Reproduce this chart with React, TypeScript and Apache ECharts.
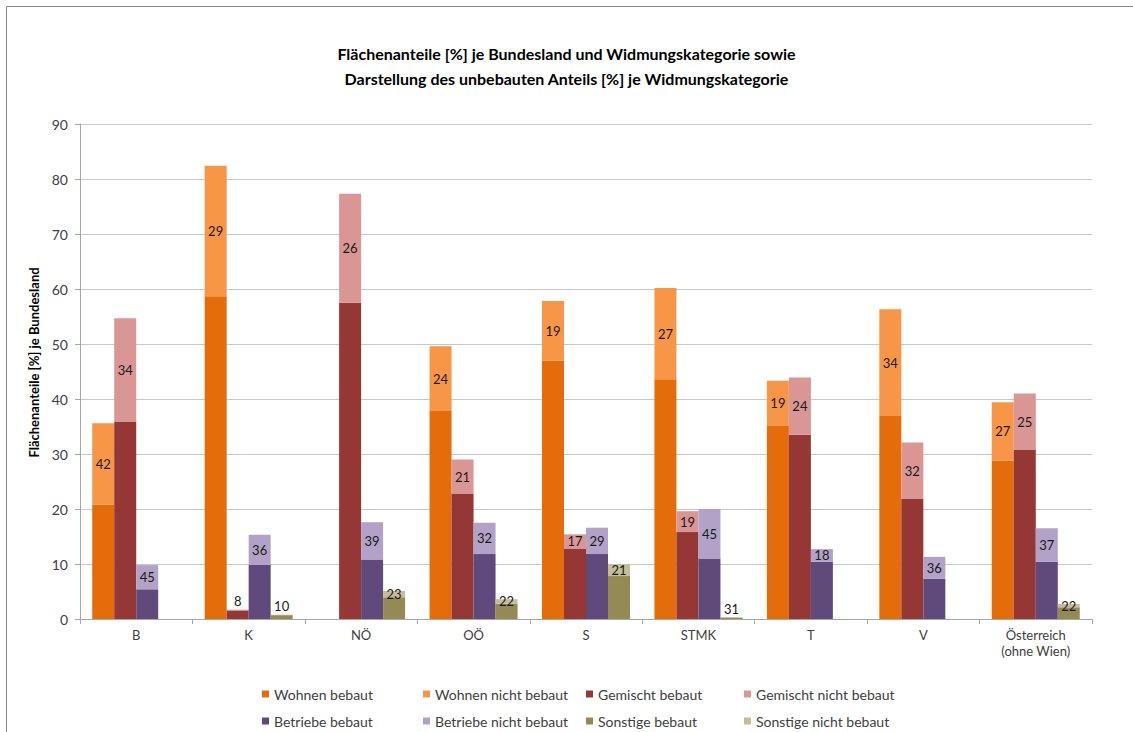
import React, { useEffect, useRef } from "react";
import * as echarts from "echarts";

const categories = ["B", "K", "NÖ", "OÖ", "S", "STMK", "T", "V", "Österreich\n(ohne Wien)"];

const wohnenBebaut = [20.8, 58.7, 0, 37.8, 47.0, 43.6, 35.1, 36.9, 28.8];
const wohnenNicht = [14.8, 23.7, 0, 11.8, 10.8, 16.6, 8.2, 19.4, 10.6];
const wohnenPct = [42, 29, null, 24, 19, 27, 19, 34, 27];

const gemischtBebaut = [35.9, 1.56, 57.5, 22.8, 12.8, 15.8, 33.5, 21.9, 30.8];
const gemischtNicht = [18.8, 0.14, 19.8, 6.2, 2.6, 3.8, 10.4, 10.2, 10.2];
const gemischtPct = [34, 8, 26, 21, 17, 19, 24, 32, 25];

const betriebeBebaut = [5.4, 9.8, 10.8, 11.8, 11.8, 11.0, 10.4, 7.3, 10.4];
const betriebeNicht = [4.4, 5.5, 6.8, 5.7, 4.8, 9.0, 2.3, 4.0, 6.1];
const betriebePct = [45, 36, 39, 32, 29, 45, 18, 36, 37];

const sonstigeBebaut = [0, 0.7, 3.95, 2.8, 7.8, 0.25, 0, 0, 2.13];
const sonstigeNicht = [0, 0.08, 1.15, 0.8, 2.16, 0.11, 0, 0, 0.6];
const sonstigePct = [null, 10, 23, 22, 21, 31, null, null, 22];

const FONT = "Lato";

const groups = [
  { key: "W", name: "Wohnen", bebaut: wohnenBebaut, nicht: wohnenNicht, pct: wohnenPct, c1: "#e46c0a", c2: "#f79646" },
  { key: "G", name: "Gemischt", bebaut: gemischtBebaut, nicht: gemischtNicht, pct: gemischtPct, c1: "#953735", c2: "#d99694" },
  { key: "B", name: "Betriebe", bebaut: betriebeBebaut, nicht: betriebeNicht, pct: betriebePct, c1: "#604a7b", c2: "#b3a2c7" },
  { key: "S", name: "Sonstige", bebaut: sonstigeBebaut, nicht: sonstigeNicht, pct: sonstigePct, c1: "#948a54", c2: "#c4bd97" },
];

export default function App() {
  const ref = useRef<HTMLDivElement>(null);
  useEffect(() => {
    if (!ref.current) return;
    const chart = echarts.init(ref.current, null, { renderer: "svg" });
    const series: any[] = [];
    groups.forEach((g) => {
      series.push({
        name: g.name + " bebaut",
        type: "bar",
        stack: g.key,
        barWidth: 22,
        barGap: "0%",
        itemStyle: { color: g.c1 },
        data: g.bebaut,
      });
      series.push({
        name: g.name + " nicht bebaut",
        type: "bar",
        stack: g.key,
        barWidth: 22,
        barGap: "0%",
        itemStyle: { color: g.c2 },
        data: g.nicht.map((v, i) => {
          const p = g.pct[i];
          if (p == null) return { value: v, label: { show: false } };
          return {
            value: v,
            label: {
              show: true,
              position: v < 0.5 ? "top" : "inside",
              distance: 2,
              formatter: String(p),
            },
          };
        }),
        label: { color: "#1a1a1a", fontFamily: FONT, fontSize: 13 },
      });
    });
    const colLefts = [257, 418, 581, 739];
    const rowTops = [681, 708];
    const legendRows = [
      ["Wohnen bebaut", "Wohnen nicht bebaut", "Gemischt bebaut", "Gemischt nicht bebaut"],
      ["Betriebe bebaut", "Betriebe nicht bebaut", "Sonstige bebaut", "Sonstige nicht bebaut"],
    ];
    const legends: any[] = [];
    legendRows.forEach((row, r) =>
      row.forEach((name, c) => {
        legends.push({
          left: colLefts[c],
          top: rowTops[r],
          itemWidth: 7,
          itemHeight: 7,
          icon: "rect",
          data: [name],
          textStyle: { fontFamily: FONT, fontSize: 14, color: "#404040", lineHeight: 16 },
          selectedMode: false,
        });
      })
    );
    chart.setOption({
      animation: false,
      backgroundColor: "#ffffff",
      title: {
        text: "Flächenanteile [%] je Bundesland und Widmungskategorie sowie\nDarstellung des unbebauten Anteils [%] je Widmungskategorie",
        left: "center",
        top: 36,
        textStyle: { fontFamily: FONT, fontSize: 16, fontWeight: "bold", color: "#000", lineHeight: 25 },
      },
      graphic: [
        {
          type: "rect",
          shape: { x: 6.5, y: 6.5, width: 1300, height: 900 },
          style: { fill: "none", stroke: "#868686", lineWidth: 1 },
          silent: true,
        },
      ],
      legend: legends,
      grid: { left: 80, right: 41, top: 124, bottom: 113, containLabel: false },
      xAxis: {
        type: "category",
        data: categories,
        axisLine: { lineStyle: { color: "#a6a6a6" } },
        axisTick: { show: true, length: 5, lineStyle: { color: "#a6a6a6" } },
        axisLabel: { fontFamily: FONT, fontSize: 13, color: "#404040", margin: 8, lineHeight: 16, interval: 0 },
      },
      yAxis: {
        type: "value",
        min: 0,
        max: 90,
        interval: 10,
        name: "Flächenanteile [%] je Bundesland",
        nameLocation: "middle",
        nameGap: 36,
        nameTextStyle: { fontFamily: FONT, fontSize: 13, fontWeight: "bold", color: "#000", padding: [0, 0, 0, 18] },
        axisLine: { show: true, lineStyle: { color: "#a6a6a6" } },
        axisTick: { show: true, length: 5, lineStyle: { color: "#a6a6a6" } },
        axisLabel: { fontFamily: FONT, fontSize: 14, color: "#404040", margin: 12 },
        splitLine: { lineStyle: { color: "#c8c8c8" } },
      },
      series,
    });
    return () => chart.dispose();
  }, []);
  return (
    <div
      ref={ref}
      style={{ position: "absolute", left: 0, top: 0, width: 1133, height: 732 }}
    />
  );
}
